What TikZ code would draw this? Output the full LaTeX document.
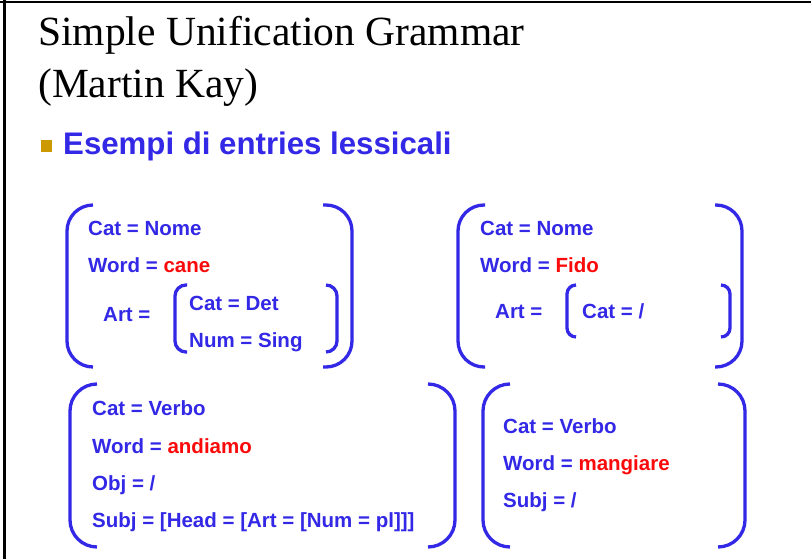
\documentclass[tikz,border=0pt]{standalone}
\usepackage{fontspec}
\setsansfont{Liberation Sans}
\newfontfamily\titlefont{Liberation Serif}

\definecolor{ublue}{RGB}{50,40,230}
\definecolor{ured}{RGB}{250,10,10}
\definecolor{ugold}{RGB}{204,153,0}

\begin{document}
\begin{tikzpicture}[x=1pt, y=-1pt,
  feat/.style={anchor=base west, inner sep=0pt, text=ublue,
    font=\sffamily\bfseries\fontsize{20.5}{24}\selectfont},
  brk/.style={draw=ublue, line width=3.3pt, rounded corners=#1},
  brk/.default=26]
  \useasboundingbox (0,0) rectangle (811,559);

  % cornice
  \draw[line width=2.5pt] (0,2) -- (811,2);
  \draw[line width=3pt] (4.5,0) -- (4.5,559);

  % titolo
  \node[anchor=base west, inner sep=0pt, font=\titlefont\fontsize{41.5}{46}\selectfont]
    (tit1) at (38,46) {Simple Unification Grammar};
  \node[anchor=base west, inner sep=0pt, font=\titlefont\fontsize{41.5}{46}\selectfont]
    (tit2) at (38,98) {(Martin Kay)};

  \fill[ugold] (41,140) rectangle (52,152);
  \node[anchor=base west, inner sep=0pt, text=ublue,
    font=\sffamily\bfseries\fontsize{31.2}{36}\selectfont]
    (esempi) at (63,154) {Esempi di entries lessicali};

  % cane
  \draw[brk] (93,205) -- (67,205) -- (67,367) -- (93,367);
  \draw[brk] (323,205) -- (352,205) -- (352,367) -- (323,367);
  \draw[brk=11] (187,285) -- (175,285) -- (175,352) -- (187,352);
  \draw[brk=11] (326,285) -- (337,285) -- (337,352) -- (326,352);
  \node[feat] (canecat)  at (88,235)  {Cat = Nome};
  \node[feat] (caneword) at (88,272)  {Word = \textcolor{ured}{cane}};
  \node[feat] (caneart)  at (103,321) {Art =};
  \node[feat] (canedet)  at (189,310) {Cat = Det};
  \node[feat] (canenum)  at (189,347) {Num = Sing};

  % Fido
  \draw[brk] (485,205) -- (458,205) -- (458,367) -- (485,367);
  \draw[brk] (715,205) -- (742,205) -- (742,367) -- (715,367);
  \draw[brk=9] (576,285) -- (567,285) -- (567,337) -- (576,337);
  \draw[brk=9] (721,285) -- (730,285) -- (730,337) -- (721,337);
  \node[feat] (fidocat)  at (480,235) {Cat = Nome};
  \node[feat] (fidoword) at (480,272) {Word = \textcolor{ured}{Fido}};
  \node[feat] (fidoart)  at (495,318) {Art =};
  \node[feat] (fidodet)  at (582,318) {Cat = /};

  % andiamo
  \draw[brk=27] (97,384) -- (70,384) -- (70,547) -- (97,547);
  \draw[brk=27] (428,384) -- (455,384) -- (455,547) -- (428,547);
  \node[feat] (andcat)  at (92,415) {Cat = Verbo};
  \node[feat] (andword) at (92,453) {Word = \textcolor{ured}{andiamo}};
  \node[feat] (andobj)  at (92,490) {Obj = /};
  \node[feat] (andsubj) at (92,527) {Subj = [Head = [Art = [Num = pl]]]};

  % mangiare
  \draw[brk=27] (510,384) -- (483,384) -- (483,547) -- (510,547);
  \draw[brk=27] (718,384) -- (745,384) -- (745,547) -- (718,547);
  \node[feat] (mancat)  at (503,433) {Cat = Verbo};
  \node[feat] (manword) at (503,470) {Word = \textcolor{ured}{mangiare}};
  \node[feat] (mansubj) at (503,507) {Subj = /};
\end{tikzpicture}
\end{document}
